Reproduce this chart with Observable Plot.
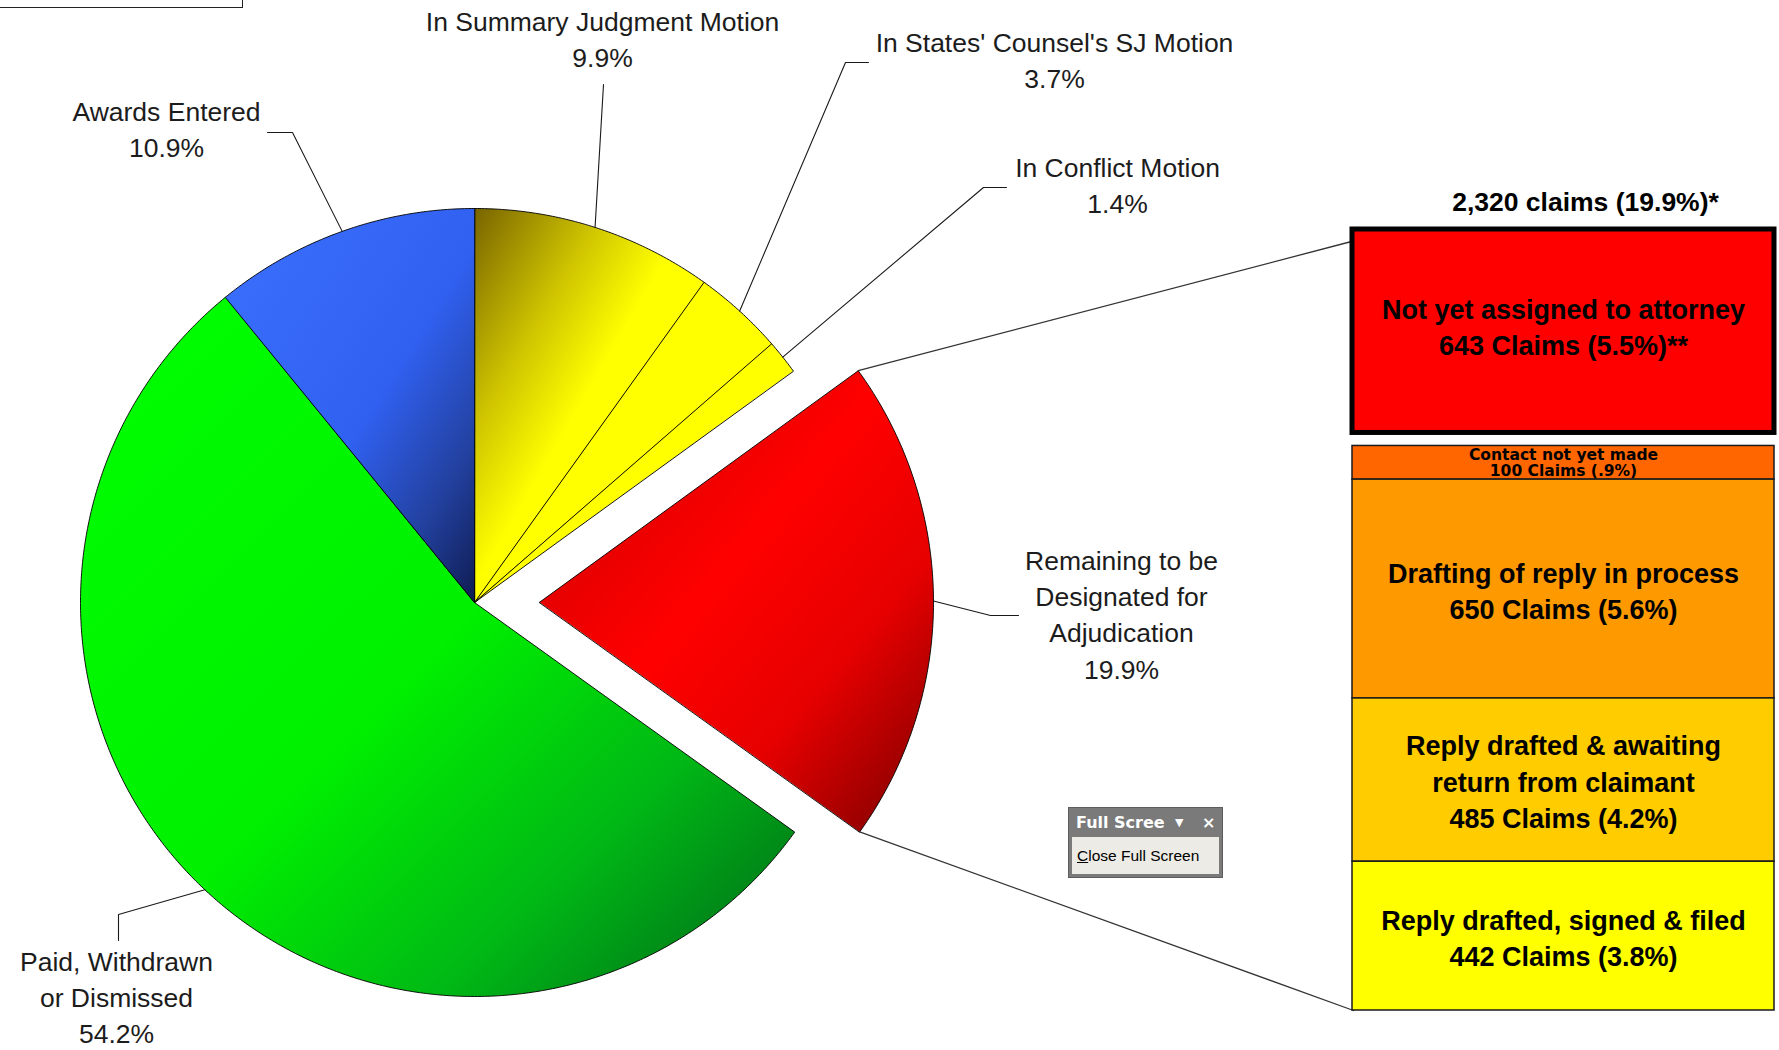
<!DOCTYPE html>
<html>
<head>
<meta charset="utf-8">
<script src="https://cdn.jsdelivr.net/npm/d3@7"></script>
<script src="https://cdn.jsdelivr.net/npm/@observablehq/plot@0.6"></script>
<style>
  html, body { margin: 0; padding: 0; background: #fff; overflow: hidden; }
  #wrap { position: relative; width: 1779px; height: 1050px; overflow: hidden; background: #fff; }
  #wrap > svg { position: absolute; }
  #corner { position: absolute; left: -2px; top: -2px; width: 245px; height: 10px; border: 1.5px solid #222; box-sizing: border-box; }
  #fs { position: absolute; left: 1068px; top: 807px; width: 155px; height: 71px; background: #7a7a7a; border: 1px solid #5c5c5c; box-sizing: border-box; }
  #fs .bar { position: absolute; left: 3px; right: 3px; top: 2px; height: 25px; color: #fff; font: bold 16px "DejaVu Sans", sans-serif; line-height: 25px; padding-left: 4px; white-space: nowrap; }
  #fs .bar .tri { position: absolute; left: 103px; font-size: 11px; }
  #fs .bar .x { position: absolute; left: 130px; font-weight: bold; }
  #fs .body { position: absolute; left: 3px; right: 3px; top: 29px; bottom: 3px; background: #ecebe5; color: #000; font: 15.5px "Liberation Sans", Arial, sans-serif; line-height: 38px; padding-left: 5px; white-space: nowrap; }
</style>
</head>
<body>
<div id="wrap"></div>
<script>
// ---------- DATA ----------
const categories = [
  "In Summary Judgment Motion",
  "In States' Counsel's SJ Motion",
  "In Conflict Motion",
  "Remaining to be Designated for Adjudication",
  "Paid, Withdrawn or Dismissed",
  "Awards Entered"
];
const shares = [9.9, 3.7, 1.4, 19.9, 54.2, 10.9];
const labelLines = [
  ["In Summary Judgment Motion"],
  ["In States' Counsel's SJ Motion"],
  ["In Conflict Motion"],
  ["Remaining to be", "Designated for", "Adjudication"],
  ["Paid, Withdrawn", "or Dismissed"],
  ["Awards Entered"]
];
const explodedCategory = "Remaining to be Designated for Adjudication";

const breakdownTitle = "2,320 claims (19.9%)*";
const breakdownStages = [
  "Not yet assigned to attorney",
  "Contact not yet made",
  "Drafting of reply in process",
  "Reply drafted & awaiting\nreturn from claimant",
  "Reply drafted, signed & filed"
];
const breakdownClaims = [643, 100, 650, 485, 442];
const breakdownShares = ["5.5%", ".9%", "5.6%", "4.2%", "3.8%"];
const breakdownNotes = ["**", "", "", "", ""];

// ---------- STYLES ----------
const sliceFills = ["url(#gSJ)", "#ffff00", "#ffff00", "url(#gRed)", "url(#gGreen)", "url(#gBlue)"];
const boxFills = ["#ff0000", "#ff6600", "#ff9900", "#ffcc00", "#ffff00"];
const gradients = [
  {id: "gSJ", stops: [[0, "#786400"], [0.28, "#cfc400"], [0.48, "#ffff00"], [1, "#ffff00"]]},
  {id: "gRed", stops: [[0, "#c40000"], [0.25, "#e60000"], [0.45, "#ff0000"], [0.7, "#e60000"], [1, "#760000"]]},
  {id: "gGreen", stops: [[0, "#00ff00"], [0.5, "#00f000"], [0.75, "#00b815"], [1, "#00621a"]]},
  {id: "gBlue", stops: [[0, "#3d70ff"], [0.55, "#3060f0"], [0.8, "#22409e"], [1, "#0f1c52"]]}
];
const FONT = "Liberation Sans, Arial, sans-serif";

// ---------- LAYOUT ----------
const W = 1779, H = 1050;
const cx = 474, cy = 602, R = 394, explode = 65;
// label block centres and leader-line bends (annotation layout)
const labelAt = [[602, 37], [1054, 58], [1117, 183], [1121, 612], [116, 995], [166, 127]];
const leaderBend = [[[603, 84]], [[845, 62], [868, 62]], [[983, 187], [1006, 187]], [[990, 615], [1018, 615]], [[118, 914], [118, 940]], [[292, 132], [267, 132]]];
// breakdown panel placement
const PX = 1340, PY = 170, PW = 440, PH = 850;
const pm = {top: 59, bottom: 10, left: 12, right: 6};

// ---------- PIE GEOMETRY (derived from shares) ----------
const arcs = d3.pie().sort(null).value(d => d)(shares);
const slicePts = [];
const origins = [];
arcs.forEach((a, i) => {
  const mid = (a.startAngle + a.endAngle) / 2;
  const off = categories[i] === explodedCategory ? explode : 0;
  const ox = cx + off * Math.sin(mid), oy = cy - off * Math.cos(mid);
  origins.push([ox, oy]);
  slicePts.push({i, x: ox, y: oy});
  const n = Math.max(4, Math.ceil((a.endAngle - a.startAngle) / (Math.PI / 360)));
  for (let k = 0; k <= n; k++) {
    const t = a.startAngle + (a.endAngle - a.startAngle) * k / n;
    slicePts.push({i, x: ox + R * Math.sin(t), y: oy - R * Math.cos(t)});
  }
});
const onArc = (i, t) => [origins[i][0] + R * Math.sin(t), origins[i][1] - R * Math.cos(t)];

const leaderPts = [];
arcs.forEach((a, i) => {
  const [sx, sy] = onArc(i, (a.startAngle + a.endAngle) / 2);
  leaderPts.push({i, x: sx, y: sy});
  for (const [bx, by] of leaderBend[i]) leaderPts.push({i, x: bx, y: by});
});

const labels = categories.map((c, i) => ({
  x: labelAt[i][0], y: labelAt[i][1],
  text: labelLines[i].join("\n") + "\n" + shares[i].toFixed(1) + "%"
}));

// breakdown boxes (stacked by claims)
const total = d3.sum(breakdownClaims);
const cum = d3.cumsum(breakdownClaims);
const boxes = breakdownStages.map((stage, i) => ({
  stage, claims: breakdownClaims[i], fill: boxFills[i],
  y1: cum[i] - breakdownClaims[i], y2: cum[i],
  text: `${stage}\n${breakdownClaims[i]} Claims (${breakdownShares[i]})${breakdownNotes[i]}`
}));

// connector from exploded slice to the panel
const ex = categories.indexOf(explodedCategory);
const boxLeft = PX + pm.left;
const boxTop = PY + pm.top;
const boxBottom = PY + PH - pm.bottom;
const connectors = [
  {k: 0, p: onArc(ex, arcs[ex].startAngle)}, {k: 0, p: [boxLeft - 1, boxTop + 12]},
  {k: 1, p: onArc(ex, arcs[ex].endAngle)}, {k: 1, p: [boxLeft + 1, boxBottom]}
];

// ---------- MAIN PLOT ----------
const sliceMarks = arcs.map((a, i) =>
  Plot.line(slicePts.filter(p => p.i === i), {
    x: "x", y: "y", curve: "linear-closed",
    fill: sliceFills[i], stroke: "#000", strokeWidth: 1, strokeOpacity: 0.9, strokeLinejoin: "round"
  })
);

const main = Plot.plot({
  width: W, height: H, margin: 0,
  x: {domain: [0, W], range: [0, W], axis: null},
  y: {domain: [0, H], range: [0, H], axis: null},
  style: {background: "transparent"},
  marks: [
    ...sliceMarks,
    Plot.line(leaderPts, {x: "x", y: "y", z: "i", stroke: "#1a1a1a", strokeWidth: 1.1}),
    Plot.line(connectors, {x: d => d.p[0], y: d => d.p[1], z: "k", stroke: "#333", strokeWidth: 1.3}),
    Plot.text(labels, {
      x: "x", y: "y", text: "text", fontSize: 26.5, lineHeight: 1.37,
      fontFamily: FONT, fill: "#1c1c1c", textAnchor: "middle"
    })
  ]
});

const NS = "http://www.w3.org/2000/svg";
const defs = document.createElementNS(NS, "defs");
for (const g of gradients) {
  const lg = document.createElementNS(NS, "linearGradient");
  lg.setAttribute("id", g.id);
  lg.setAttribute("x1", "0"); lg.setAttribute("y1", "0");
  lg.setAttribute("x2", "1"); lg.setAttribute("y2", "1");
  for (const [o, c] of g.stops) {
    const s = document.createElementNS(NS, "stop");
    s.setAttribute("offset", o);
    s.setAttribute("stop-color", c);
    lg.appendChild(s);
  }
  defs.appendChild(lg);
}
main.insertBefore(defs, main.firstChild);
main.style.left = "0px"; main.style.top = "0px";

// ---------- BREAKDOWN PANEL ----------
const contactStage = breakdownStages[1];
const panel = Plot.plot({
  width: PW, height: PH,
  marginTop: pm.top, marginBottom: pm.bottom, marginLeft: pm.left, marginRight: pm.right,
  x: {domain: [0, 1], axis: null},
  y: {domain: [0, total], reverse: true, axis: null},
  style: {background: "transparent", overflow: "visible"},
  marks: [
    Plot.rect(boxes.slice(1), {x1: 0, x2: 1, y1: "y1", y2: "y2", fill: "fill", stroke: "#1a1a1a", strokeWidth: 1.5}),
    Plot.rect(boxes.slice(0, 1), {x1: 0, x2: 1, y1: "y1", y2: "y2", fill: "fill", stroke: "#000", strokeWidth: 5, insetBottom: 13}),
    Plot.text(boxes.slice(0, 1), {
      x: 0.5, y: d => (d.y1 + d.y2) / 2, dy: -12, text: "text",
      fontSize: 27, fontWeight: "bold", lineHeight: 1.34, fontFamily: FONT, fill: "#000"
    }),
    Plot.text(boxes.filter((d, i) => i > 0 && d.stage !== contactStage), {
      x: 0.5, y: d => (d.y1 + d.y2) / 2, text: "text",
      fontSize: 27, fontWeight: "bold", lineHeight: 1.34, fontFamily: FONT, fill: "#000"
    }),
    Plot.text(boxes.filter(d => d.stage === contactStage), {
      x: 0.5, y: d => (d.y1 + d.y2) / 2, dy: 0.5, text: "text",
      fontSize: 15.5, fontWeight: "bold", lineHeight: 1.03, fontFamily: "DejaVu Sans, sans-serif", fill: "#000"
    }),
    Plot.text([breakdownTitle], {
      frameAnchor: "top", dx: 22, dy: -37, text: d => d,
      fontSize: 26.5, fontWeight: "bold", fontFamily: FONT, fill: "#000"
    })
  ]
});
panel.style.left = PX + "px"; panel.style.top = PY + "px";

const wrap = document.getElementById("wrap");
wrap.appendChild(main);
wrap.appendChild(panel);

// decorations from the original screenshot
const corner = document.createElement("div");
corner.id = "corner";
wrap.appendChild(corner);
const fs = document.createElement("div");
fs.id = "fs";
fs.innerHTML = '<div class="bar">Full Scree<span class="tri">\u25BC</span><span class="x">\u00D7</span></div>' +
  '<div class="body"><u>C</u>lose Full Screen</div>';
wrap.appendChild(fs);
</script>
</body>
</html>
